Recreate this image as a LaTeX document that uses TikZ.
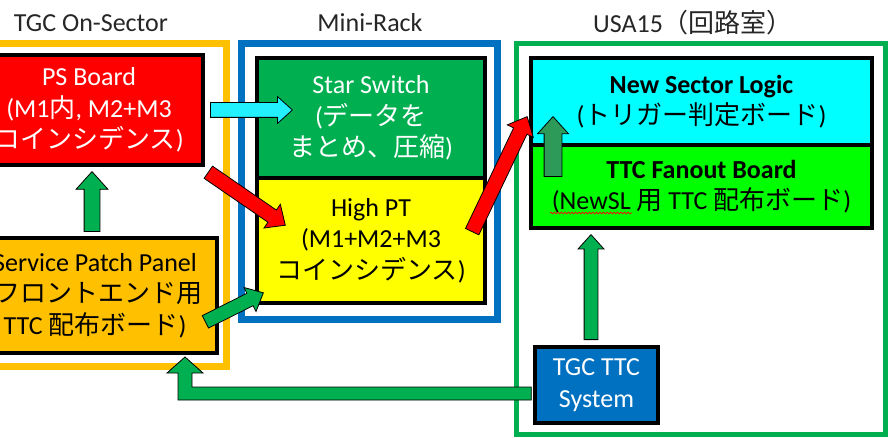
\documentclass[tikz,border=0pt]{standalone}
\usepackage{fontspec}
\setmainfont{Carlito}
\newfontfamily\jpfont{Noto Sans CJK JP}
\usetikzlibrary{shapes.arrows,calc,decorations.pathmorphing}
\newcommand\jpt[1]{{\jpfont #1}}
\definecolor{cOrange}{HTML}{FFC000}
\definecolor{cBlue}{HTML}{0070C0}
\definecolor{cGreen}{HTML}{00B050}
\definecolor{cDarkGreen}{HTML}{2E9A5A}
\definecolor{cRed}{HTML}{FF0000}
\definecolor{cYellow}{HTML}{FFFF00}
\definecolor{cCyan}{HTML}{00FFFF}
\definecolor{cArrowCyan}{HTML}{22F0FF}
\definecolor{cLime}{HTML}{00FF00}
\definecolor{cTitle}{HTML}{262626}
% #1 options, #2 from, #3 to
\newcommand\blockarrow[3]{%
  \path let \p1=($(#3)-(#2)$), \n1={atan2(\y1,\x1)}, \n2={veclen(\x1,\y1)} in
    node[barrow,#1,minimum height=\n2,rotate=\n1] at (#2) {};}
\begin{document}
\begin{tikzpicture}[x=1pt,y=-1pt,
  box/.style={draw=black, line width=3.5pt, inner sep=0pt, align=center,
    font=\fontsize{26}{31.5}\selectfont},
  title/.style={text=cTitle, font=\fontsize{26}{30}\selectfont},
  barrow/.style={single arrow, draw=black, line width=0.8pt, inner xsep=0pt,
    anchor=tail, single arrow tip angle=84},
  frameline/.style={line width=#1}
]
\useasboundingbox (0,0) rectangle (888,438);
\clip (0,0) rectangle (888,438);

% titles
\node[title] (t1) at (91,23) {TGC On-Sector};
\node[title] (t2) at (370,23) {Mini-Rack};
\node[title] (t3) at (693,23) {USA15\jpt{（回路室）}};

% frames
\draw[cOrange, frameline=7pt] (-10,44) rectangle (226,366);
\draw[cBlue, frameline=7pt] (241,44) rectangle (497,319);
\draw[cGreen, frameline=5pt] (516,44) rectangle (885,434);

% boxes
\node[box, fill=cRed, text=white, minimum width=228, minimum height=110] (ps) at (89,110)
  {PS Board\\(M1\jpt{内}, M2+M3\\\jpt{コインシデンス})};
\node[box, fill=cOrange, text=black, minimum width=244, minimum height=115] (spp) at (95,295.5)
  {Service Patch Panel\\(\jpt{フロントエンド用}\\TTC \jpt{配布ボード})};
\node[box, fill=cGreen, text=white, minimum width=228, minimum height=120] (ss) at (371,118)
  {Star Switch\\(\jpt{データを}\\\jpt{まとめ、圧縮})};
\node[box, fill=cYellow, text=black, minimum width=228, minimum height=125] (hpt) at (371,240.5)
  {High PT\\(M1+M2+M3\\\jpt{コインシデンス})};
\node[box, fill=cCyan, text=black, minimum width=341, minimum height=87] (nsl) at (701.5,101.5)
  {\textbf{New Sector Logic}\\(\jpt{トリガー判定ボード})};
\node[box, fill=cLime, text=black, minimum width=341, minimum height=83] (ttc) at (701.5,186.5)
  {\textbf{TTC Fanout Board}\\(NewSL \jpt{用} TTC \jpt{配布ボード})};
\node[box, fill=cBlue, text=white, minimum width=123, minimum height=76,
  font=\fontsize{26}{32}\selectfont] (tgc) at (596.5,385)
  {TGC TTC\\System};

% spelling squiggle under NewSL
\draw[cRed, line width=0.7pt, decorate,
  decoration={snake, amplitude=0.9pt, segment length=3.5pt}] (550,213) -- (632,213);

% arrow end points
\coordinate (a1s) at (210,110);  \coordinate (a1e) at (292,110);
\coordinate (a2s) at (208,172);  \coordinate (a2e) at (285,225);
\coordinate (a3s) at (472,232);  \coordinate (a3e) at (527,117);
\coordinate (a4s) at (205,322);  \coordinate (a4e) at (263,293);
\coordinate (a5s) at (92,232);   \coordinate (a5e) at (92,172);
\coordinate (a6s) at (553,177);  \coordinate (a6e) at (553,117);
\coordinate (a7s) at (591,340);  \coordinate (a7e) at (591,235);
\coordinate (lhead) at (185,357);

% block arrows (inner ysep = half shaft width)
\blockarrow{fill=cArrowCyan, inner ysep=7pt, single arrow head extend=6pt}{a1s}{a1e}
\blockarrow{fill=cRed, inner ysep=7pt, single arrow head extend=7pt}{a2s}{a2e}
\blockarrow{fill=cRed, inner ysep=7pt, single arrow head extend=7pt}{a3s}{a3e}
\blockarrow{fill=cGreen, inner ysep=6.5pt, single arrow head extend=6.5pt}{a4s}{a4e}
\blockarrow{fill=cGreen, inner ysep=7.5pt, single arrow head extend=8pt}{a5s}{a5e}
\blockarrow{fill=cDarkGreen, inner ysep=8.5pt, single arrow head extend=6.5pt}{a6s}{a6e}
\blockarrow{fill=cGreen, inner ysep=6.5pt, single arrow head extend=6pt}{a7s}{a7e}

% L-shaped arrow from TGC TTC System to Service Patch Panel
\draw[fill=cGreen, draw=black, line width=0.8pt, line join=miter]
  (lhead) -- ++(18,16) -- ++(-11,0) -- ++(0,14)
  -- ([xshift=-2pt]tgc.west |- 0,387) -- ([xshift=-2pt]tgc.west |- 0,400)
  -- (178,400) -- (178,373) -- (167,373) -- cycle;
\end{tikzpicture}
\end{document}
